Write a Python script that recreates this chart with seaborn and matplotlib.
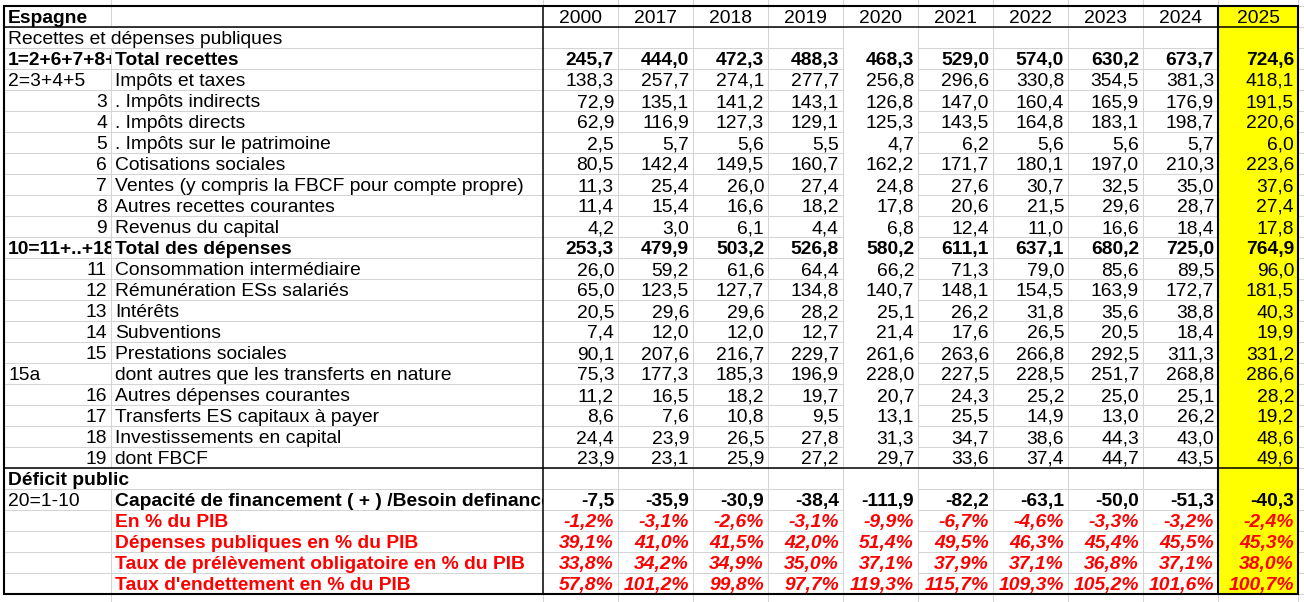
import numpy as np
import pandas as pd
import matplotlib.pyplot as plt
import seaborn as sns
from matplotlib.patches import Rectangle

# Données (milliards d'euros, Espagne)
annees = ["2000", "2017", "2018", "2019", "2020", "2021", "2022", "2023", "2024", "2025"]

total_recettes = [245.7, 444.0, 472.3, 488.3, 468.3, 529.0, 574.0, 630.2, 673.7, 724.6]
impots_taxes = [138.3, 257.7, 274.1, 277.7, 256.8, 296.6, 330.8, 354.5, 381.3, 418.1]
impots_indirects = [72.9, 135.1, 141.2, 143.1, 126.8, 147.0, 160.4, 165.9, 176.9, 191.5]
impots_directs = [62.9, 116.9, 127.3, 129.1, 125.3, 143.5, 164.8, 183.1, 198.7, 220.6]
impots_patrimoine = [2.5, 5.7, 5.6, 5.5, 4.7, 6.2, 5.6, 5.6, 5.7, 6.0]
cotisations = [80.5, 142.4, 149.5, 160.7, 162.2, 171.7, 180.1, 197.0, 210.3, 223.6]
ventes = [11.3, 25.4, 26.0, 27.4, 24.8, 27.6, 30.7, 32.5, 35.0, 37.6]
autres_recettes = [11.4, 15.4, 16.6, 18.2, 17.8, 20.6, 21.5, 29.6, 28.7, 27.4]
revenus_capital = [4.2, 3.0, 6.1, 4.4, 6.8, 12.4, 11.0, 16.6, 18.4, 17.8]
total_depenses = [253.3, 479.9, 503.2, 526.8, 580.2, 611.1, 637.1, 680.2, 725.0, 764.9]
conso_inter = [26.0, 59.2, 61.6, 64.4, 66.2, 71.3, 79.0, 85.6, 89.5, 96.0]
remuneration = [65.0, 123.5, 127.7, 134.8, 140.7, 148.1, 154.5, 163.9, 172.7, 181.5]
interets = [20.5, 29.6, 29.6, 28.2, 25.1, 26.2, 31.8, 35.6, 38.8, 40.3]
subventions = [7.4, 12.0, 12.0, 12.7, 21.4, 17.6, 26.5, 20.5, 18.4, 19.9]
prestations = [90.1, 207.6, 216.7, 229.7, 261.6, 263.6, 266.8, 292.5, 311.3, 331.2]
prestations_hors_nature = [75.3, 177.3, 185.3, 196.9, 228.0, 227.5, 228.5, 251.7, 268.8, 286.6]
autres_depenses = [11.2, 16.5, 18.2, 19.7, 20.7, 24.3, 25.2, 25.0, 25.1, 28.2]
transferts_capital = [8.6, 7.6, 10.8, 9.5, 13.1, 25.5, 14.9, 13.0, 26.2, 19.2]
investissements = [24.4, 23.9, 26.5, 27.8, 31.3, 34.7, 38.6, 44.3, 43.0, 48.6]
fbcf = [23.9, 23.1, 25.9, 27.2, 29.7, 33.6, 37.4, 44.7, 43.5, 49.6]
capacite_financement = [-7.5, -35.9, -30.9, -38.4, -111.9, -82.2, -63.1, -50.0, -51.3, -40.3]
deficit_pib = [-1.2, -3.1, -2.6, -3.1, -9.9, -6.7, -4.6, -3.3, -3.2, -2.4]
depenses_pib = [39.1, 41.0, 41.5, 42.0, 51.4, 49.5, 46.3, 45.4, 45.5, 45.3]
prelevements_pib = [33.8, 34.2, 34.9, 35.0, 37.1, 37.9, 37.1, 36.8, 37.1, 38.0]
endettement_pib = [57.8, 101.2, 99.8, 97.7, 119.3, 115.7, 109.3, 105.2, 101.6, 100.7]

# (code colonne A, libellé colonne B, valeurs, style)
lignes = [
    ("Espagne", "", annees, "entete"),
    ("Recettes et dépenses publiques", "", None, "section"),
    ("1=2+6+7+8+9", "Total recettes", total_recettes, "gras"),
    ("2=3+4+5", "Impôts et taxes", impots_taxes, "normal"),
    ("3", ". Impôts indirects", impots_indirects, "normal"),
    ("4", ". Impôts directs", impots_directs, "normal"),
    ("5", ". Impôts sur le patrimoine", impots_patrimoine, "normal"),
    ("6", "Cotisations sociales", cotisations, "normal"),
    ("7", "Ventes (y compris la FBCF pour compte propre)", ventes, "normal"),
    ("8", "Autres recettes courantes", autres_recettes, "normal"),
    ("9", "Revenus du capital", revenus_capital, "normal"),
    ("10=11+..+18", "Total des dépenses", total_depenses, "gras"),
    ("11", "Consommation intermédiaire", conso_inter, "normal"),
    ("12", "Rémunération ESs salariés", remuneration, "normal"),
    ("13", "Intérêts", interets, "normal"),
    ("14", "Subventions", subventions, "normal"),
    ("15", "Prestations sociales", prestations, "normal"),
    ("15a", "dont autres que les transferts en nature", prestations_hors_nature, "normal"),
    ("16", "Autres dépenses courantes", autres_depenses, "normal"),
    ("17", "Transferts ES capitaux à payer", transferts_capital, "normal"),
    ("18", "Investissements en capital", investissements, "normal"),
    ("19", "dont FBCF", fbcf, "normal"),
    ("Déficit public", "", None, "section_gras"),
    ("20=1-10", "Capacité de financement ( + ) /Besoin definancement", capacite_financement, "capacite"),
    ("", "En % du PIB", deficit_pib, "rouge"),
    ("", "Dépenses publiques en % du PIB", depenses_pib, "rouge"),
    ("", "Taux de prélèvement obligatoire en % du PIB", prelevements_pib, "rouge"),
    ("", "Taux d'endettement en % du PIB", endettement_pib, "rouge"),
]

tableau = pd.DataFrame(lignes, columns=["code", "libelle", "valeurs", "style"])

# Mise en page (pixels)
sns.set_style("white")
plt.rcParams["font.family"] = ["Liberation Sans", "DejaVu Sans"]
taille = 13.9
gris = "#d4d4d4"
rouge = "#ff0000"
jaune = "#ffff00"

haut = 21
y0 = 6
n_lignes = len(tableau)
y_bas = y0 + n_lignes * haut
x_gauche, x_a, x_b = 4, 111, 543
bords = [x_b + 75 * i for i in range(10)] + [1298]
x_droite = bords[-1]

fig = plt.figure(figsize=(13.04, 6.02), dpi=100)
ax = fig.add_axes([0, 0, 1, 1])
ax.set_xlim(0, 1304)
ax.set_ylim(602, 0)
ax.axis("off")

# colonne 2025 surlignée
ax.add_patch(Rectangle((bords[9], y0), bords[10] - bords[9], y_bas - y0,
                       facecolor=jaune, edgecolor="none", zorder=0))

# quadrillage gris (Excel)
lw_g = 0.75
for i in range(n_lignes + 1):
    y = y0 + i * haut
    ax.plot([x_gauche, bords[4]], [y, y], color=gris, lw=lw_g, zorder=1)
    ax.plot([bords[5], bords[9]], [y, y], color=gris, lw=lw_g, zorder=1)
    ax.plot([x_droite, 1304], [y, y], color=gris, lw=lw_g, zorder=1)
for i, st in enumerate(tableau["style"]):
    if st in ("section", "section_gras"):
        continue
    ax.plot([x_a, x_a], [y0 + i * haut, y0 + (i + 1) * haut], color=gris, lw=lw_g, zorder=1)
for x in bords[1:9]:
    ax.plot([x, x], [y0, y_bas], color=gris, lw=lw_g, zorder=1)
for x in [x_a, x_b] + bords[1:]:
    ax.plot([x, x], [0, y0], color=gris, lw=lw_g, zorder=1)
    ax.plot([x, x], [y_bas, 602], color=gris, lw=lw_g, zorder=1)

# bordures noires
ax.add_patch(Rectangle((x_gauche, y0), x_droite - x_gauche, y_bas - y0,
                       facecolor="none", edgecolor="black", lw=1.5, zorder=3))
ax.plot([x_gauche, x_droite], [y0 + haut, y0 + haut], color="black", lw=1.1, zorder=3)
ax.plot([x_gauche, x_droite], [y0 + 22 * haut, y0 + 22 * haut], color="black", lw=1.1, zorder=3)
ax.plot([x_b, x_b], [y0, y_bas], color="black", lw=1.1, zorder=3)
ax.plot([bords[9], bords[9]], [y0, y_bas], color="black", lw=1.5, zorder=3)


def cellule(x, y, texte, ha="left", gras=False, italique=False, couleur="black", clip=None):
    t = ax.text(x, y, texte, ha=ha, va="baseline", fontsize=taille, color=couleur,
                fontweight="bold" if gras else "normal",
                fontstyle="italic" if italique else "normal", zorder=4)
    if clip is not None:
        rect = Rectangle((clip[0], y0), clip[1] - clip[0], y_bas - y0,
                         transform=ax.transData, facecolor="none")
        t.set_clip_on(True)
        t.set_clip_path(rect)
    return t


def fmt(v, pct=False):
    s = f"{v:.1f}".replace(".", ",")
    return s + "%" if pct else s


for i, row in tableau.iterrows():
    yb = y0 + i * haut + 17
    st = row["style"]
    code, lib, vals = row["code"], row["libelle"], row["valeurs"]
    gras = st in ("entete", "gras", "section_gras", "capacite", "rouge")

    # colonne A
    if st in ("entete", "section", "section_gras"):
        cellule(x_gauche + 4, yb, code, gras=(st != "section"))
    elif code:
        if code.isdigit():
            cellule(x_a - 4, yb, code, ha="right")
        else:
            cellule(x_gauche + 4, yb, code, gras=(st == "gras"), clip=(x_gauche, x_a))

    # colonne B
    if lib:
        cellule(x_a + 4, yb, lib, gras=gras,
                couleur=rouge if st == "rouge" else "black", clip=(x_a, x_b))

    # colonnes années
    if vals is None:
        continue
    for j, v in enumerate(vals):
        if st == "entete":
            cellule((bords[j] + bords[j + 1]) / 2, yb, v, ha="center")
        elif st == "rouge":
            cellule(bords[j + 1] - 4, yb, fmt(v, pct=True), ha="right",
                    gras=True, italique=True, couleur=rouge)
        else:
            cellule(bords[j + 1] - 4, yb, fmt(v), ha="right", gras=gras)

fig.savefig("out.png", dpi=100)
